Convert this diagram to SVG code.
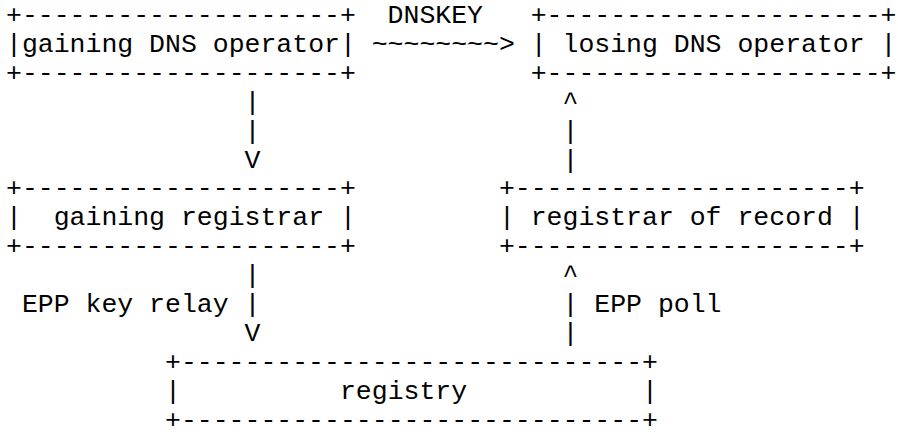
<svg xmlns="http://www.w3.org/2000/svg" width="898" height="437" viewBox="0 0 898 437">
<style>
text{font-family:"Liberation Mono","Courier New",monospace;font-size:26.5px;fill:#000;white-space:pre}
</style>
<rect width="898" height="437" fill="#fff"/>
<g id="gaining-dns-operator">
<text xml:space="preserve" x="6" y="23">+--------------------+</text>
<text xml:space="preserve" x="6" y="51.9">|gaining DNS operator|</text>
<text xml:space="preserve" x="6" y="80.8">+--------------------+</text>
</g>
<g id="losing-dns-operator">
<text xml:space="preserve" x="530.7" y="23">+---------------------+</text>
<text xml:space="preserve" x="530.7" y="51.9">| losing DNS operator |</text>
<text xml:space="preserve" x="530.7" y="80.8">+---------------------+</text>
</g>
<g id="gaining-registrar">
<text xml:space="preserve" x="6" y="196.4">+--------------------+</text>
<text xml:space="preserve" x="6" y="225.3">|  gaining registrar |</text>
<text xml:space="preserve" x="6" y="254.2">+--------------------+</text>
</g>
<g id="registrar-of-record">
<text xml:space="preserve" x="498.9" y="196.4">+---------------------+</text>
<text xml:space="preserve" x="498.9" y="225.3">| registrar of record |</text>
<text xml:space="preserve" x="498.9" y="254.2">+---------------------+</text>
</g>
<g id="registry">
<text xml:space="preserve" x="165" y="369.8">+-----------------------------+</text>
<text xml:space="preserve" x="165" y="398.7">|          registry           |</text>
<text xml:space="preserve" x="165" y="427.6">+-----------------------------+</text>
</g>
<g id="connectors">
<text x="387.6" y="23">DNSKEY</text>
<text x="371.7" y="51.9">~~~~~~~~&gt;</text>
<text x="244.5" y="109.7">|</text>
<text x="244.5" y="138.6">|</text>
<text x="244.5" y="167.5">V</text>
<text x="562.5" y="109.7">^</text>
<text x="562.5" y="138.6">|</text>
<text x="562.5" y="167.5">|</text>
<text x="244.5" y="283.1">|</text>
<text x="21.9" y="312">EPP key relay</text>
<text x="244.5" y="312">|</text>
<text x="244.5" y="340.9">V</text>
<text x="562.5" y="283.1">^</text>
<text x="562.5" y="312">|</text>
<text x="594.3" y="312">EPP poll</text>
<text x="562.5" y="340.9">|</text>
</g>
</svg>
